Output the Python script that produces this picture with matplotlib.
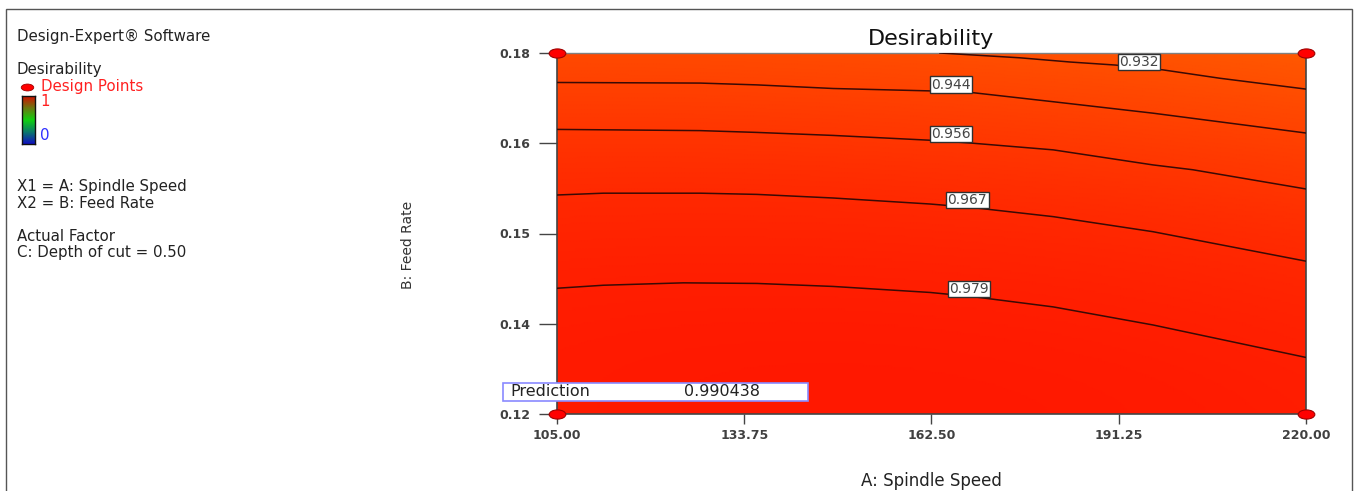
import numpy as np
import matplotlib
matplotlib.use("Agg")
import matplotlib.pyplot as plt
from matplotlib.colors import LinearSegmentedColormap, Normalize
from matplotlib.path import Path
from matplotlib.transforms import Affine2D
from matplotlib.patches import Rectangle

# ---- factor ranges and axis ticks ----
spindle_range = [105.0, 220.0]
feed_range = [0.12, 0.18]
x_ticks = [105.00, 133.75, 162.50, 191.25, 220.00]
x_tick_labels = ["105.00", "133.75", "162.50", "191.25", "220.00"]
y_ticks = [0.12, 0.135, 0.15, 0.165, 0.18]
y_tick_labels = ["0.12", "0.14", "0.15", "0.16", "0.18"]

# ---- desirability iso-lines: spindle speed (A) vs feed rate (B) ----
levels = [0.932, 0.944, 0.956, 0.967, 0.979]
iso_932_a = [163.8, 176.1, 183.8, 190.7, 198.0, 206.8, 220.0]
iso_932_b = [0.1800, 0.1792, 0.1785, 0.1780, 0.1772, 0.1758, 0.1740]
iso_944_a = [105.0, 127.0, 135.7, 147.4, 162.3, 168.9, 181.2, 196.5, 220.0]
iso_944_b = [0.1751, 0.1750, 0.1747, 0.1741, 0.1737, 0.1734, 0.1719, 0.1700, 0.1667]
iso_956_a = [105.0, 127.0, 135.7, 147.4, 162.3, 168.9, 181.2, 196.5, 202.6, 220.0]
iso_956_b = [0.1673, 0.1671, 0.1668, 0.1663, 0.1655, 0.1650, 0.1639, 0.1614, 0.1606, 0.1574]
iso_967_a = [105.0, 112.1, 127.0, 135.7, 147.4, 162.3, 168.9, 181.2, 196.5, 220.0]
iso_967_b = [0.1564, 0.1567, 0.1567, 0.1565, 0.1559, 0.1549, 0.1543, 0.1528, 0.1503, 0.1454]
iso_979_a = [105.0, 112.1, 124.4, 135.7, 147.4, 162.3, 168.9, 181.2, 196.5, 220.0]
iso_979_b = [0.1409, 0.1414, 0.1418, 0.1417, 0.1412, 0.1402, 0.1395, 0.1378, 0.1348, 0.1294]
iso_a = [iso_932_a, iso_944_a, iso_956_a, iso_967_a, iso_979_a]
iso_b = [iso_932_b, iso_944_b, iso_956_b, iso_967_b, iso_979_b]

# design points at the corners of the factor space
design_a = [105.0, 105.0, 220.0, 220.0]
design_b = [0.12, 0.18, 0.12, 0.18]

prediction_value = 0.990438

# ---- figure geometry (pixels) ----
W, H = 1357, 491
fig = plt.figure(figsize=(W / 100, H / 100), dpi=100)
plt.rcParams['font.family'] = ['DejaVu Sans']


def fx(x):
    return x / W


def fy(y):
    return 1 - y / H


ax_l, ax_r, ax_t, ax_b = 557, 1306, 53, 414
ax = fig.add_axes([fx(ax_l), fy(ax_b), fx(ax_r - ax_l), (ax_b - ax_t) / H])

# ---- shaded desirability surface from a quadratic fit of the iso-lines ----
pa, pb, pv = [], [], []
for lev, aa, bb in zip(levels, iso_a, iso_b):
    pa += list(aa)
    pb += list(bb)
    pv += [lev] * len(aa)
pa, pb, pv = np.array(pa), np.array(pb), np.array(pv)


def terms(a, b):
    u = (a - 162.5) / 57.5
    v = (b - 0.15) / 0.03
    return np.stack([np.ones_like(u), u, v, u * u, u * v, v * v], axis=-1)


coef, *_ = np.linalg.lstsq(terms(pa, pb), pv, rcond=None)
ga, gb = np.meshgrid(np.linspace(*spindle_range, 240), np.linspace(*feed_range, 160))
gd = np.clip(terms(ga, gb) @ coef, 0.9, 1.0)

fill_cmap = LinearSegmentedColormap.from_list(
    "des_fill", [(0.0, "#ff5a00"), (0.3, "#ff4200"), (0.6, "#ff2800"), (1.0, "#ff0a00")])
ax.pcolormesh(ga, gb, gd, cmap=fill_cmap, norm=Normalize(0.92, 1.0),
              shading="gouraud", rasterized=True)

# iso-lines and their value tags
tag_pos = [(194.4, 0.1785), (165.5, 0.1747), (165.5, 0.16654), (168.0, 0.15557), (168.3, 0.14078)]
for lev, aa, bb, (ta, tb) in zip(levels, iso_a, iso_b, tag_pos):
    ax.plot(aa, bb, color="#3a0a05", lw=1.1, zorder=3)
    ax.text(ta, tb, f"{lev:.3f}", ha="center", va="center", fontsize=10,
            color="#454545", zorder=5,
            bbox=dict(boxstyle="square,pad=0.1", fc="white", ec="#303030", lw=1.0))

# design point markers (flattened ellipses)
ellipse = Path.unit_circle().transformed(Affine2D().scale(1.0, 0.55))
ax.plot(design_a, design_b, ls="none", marker=ellipse, ms=12,
        mfc="#ff0000", mec="#a00000", mew=0.8, clip_on=False, zorder=6)

ax.set_xlim(*spindle_range)
ax.set_ylim(*feed_range)
ax.set_xticks(x_ticks)
ax.set_xticklabels(x_tick_labels)
ax.set_yticks(y_ticks)
ax.set_yticklabels(y_tick_labels)
ax.tick_params(axis="y", length=13, width=1, pad=6.5, color="#444444",
               labelsize=9, labelcolor="#404040")
ax.tick_params(axis="x", length=7, width=1, pad=4, color="#444444",
               labelsize=9, labelcolor="#404040")
for lab in ax.get_xticklabels() + ax.get_yticklabels():
    lab.set_fontweight("bold")
for side in ["left", "bottom", "right"]:
    ax.spines[side].set_color("#444444")
    ax.spines[side].set_linewidth(1.2)
ax.spines["top"].set_color("#808080")
ax.spines["top"].set_linewidth(1.0)

# titles and axis names
fig.text(fx(931), fy(39), "Desirability", ha="center", va="center", fontsize=16, color="#111111")
fig.text(fx(931), fy(481), "A: Spindle Speed", ha="center", va="center", fontsize=12, color="#222222")
fig.text(fx(408), fy(245), "B: Feed Rate", ha="center", va="center", rotation=90,
         fontsize=10, color="#333333")

# prediction readout box
fig.patches.append(Rectangle((fx(503), fy(401)), fx(305), 18 / H, transform=fig.transFigure,
                             fc="white", ec="#8a8aff", lw=1.2, zorder=10))
fig.text(fx(510), fy(392), "Prediction", ha="left", va="center", fontsize=11.5,
         color="#222222", zorder=11)
fig.text(fx(722), fy(392), f"{prediction_value:.6f}", ha="center", va="center",
         fontsize=11.5, color="#222222", zorder=11)

# ---- side panel ----
panel_kw = dict(ha="left", va="center", fontsize=10.8, color="#222222")
fig.text(fx(17), fy(36.5), "Design-Expert® Software", **panel_kw)
fig.text(fx(17), fy(69.5), "Desirability", **panel_kw)
fig.text(fx(41), fy(86.5), "Design Points", ha="left", va="center", fontsize=10.8, color="#ff2020")
fig.lines.append(plt.Line2D([fx(27)], [fy(86.5)], transform=fig.transFigure, ls="none",
                            marker=ellipse, ms=9, mfc="#ff0000", mec="#a00000", mew=0.6))
fig.text(fx(40), fy(102), "1", ha="left", va="center", fontsize=10.8, color="#ff2020")
fig.text(fx(40), fy(136), "0", ha="left", va="center", fontsize=10.8, color="#3030ff")
fig.text(fx(17), fy(186), "X1 = A: Spindle Speed", **panel_kw)
fig.text(fx(17), fy(203), "X2 = B: Feed Rate", **panel_kw)
fig.text(fx(17), fy(236), "Actual Factor", **panel_kw)
fig.text(fx(17), fy(252.5), "C: Depth of cut = 0.50", **panel_kw)

# colour key 0 -> 1
key_cmap = LinearSegmentedColormap.from_list(
    "des_key", [(0.0, "#1010c0"), (0.25, "#0a7a6a"), (0.5, "#10d010"),
                (0.75, "#6a7a10"), (1.0, "#d01000")])
cax = fig.add_axes([fx(21.5), fy(144), fx(13.5), 48 / H])
cax.imshow(np.linspace(1, 0, 100)[:, None], aspect="auto", cmap=key_cmap, vmin=0, vmax=1)
cax.set_xticks([])
cax.set_yticks([])
for s in cax.spines.values():
    s.set_color("#111111")
    s.set_linewidth(1.0)

# outer frame
fig.patches.append(Rectangle((fx(5.5), -0.05), fx(1346), fy(9) + 0.05, transform=fig.transFigure,
                             fill=False, ec="#555555", lw=1.0, zorder=0))

fig.savefig("out.png", dpi=100)
